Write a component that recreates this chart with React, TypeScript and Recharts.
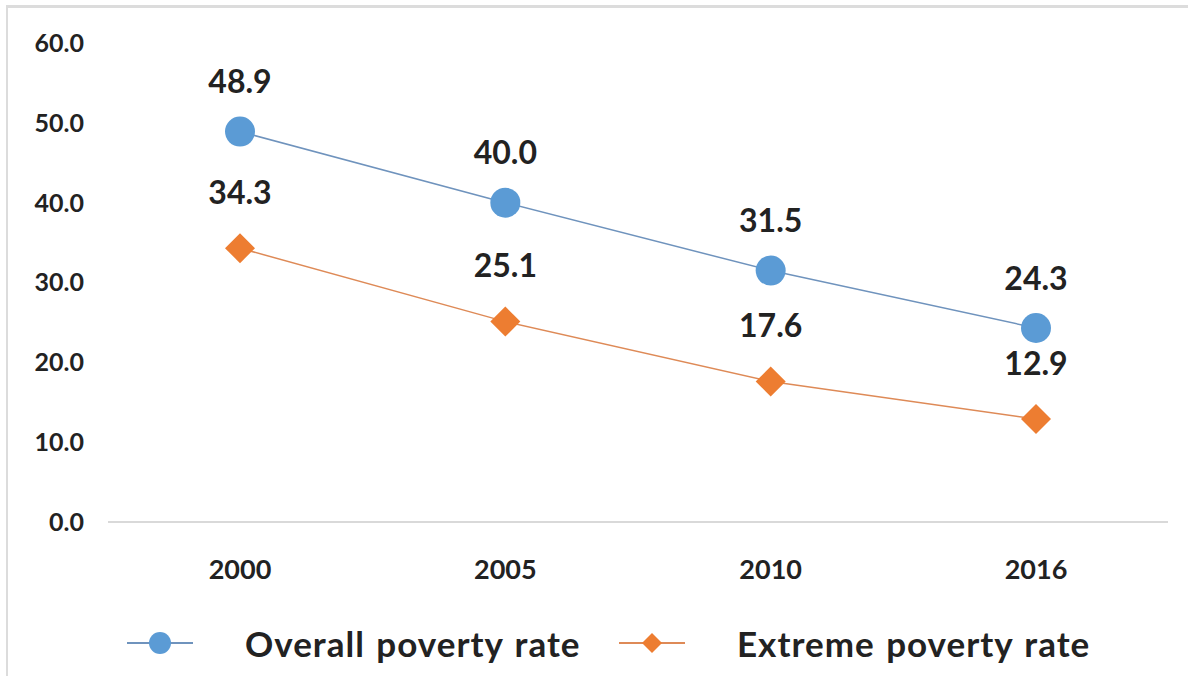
import { LabelList, Line, LineChart, XAxis, YAxis } from "recharts";

const years = ["2000", "2005", "2010", "2016"];
const overallRate = [48.9, 40.0, 31.5, 24.3];
const extremeRate = [34.3, 25.1, 17.6, 12.9];
const yTicks = [0, 10, 20, 30, 40, 50, 60];

const BLUE = "#5b9bd5";
const BLUE_LINE = "#6f93bd";
const ORANGE = "#ed7d31";
const ORANGE_LINE = "#de8a57";
const TEXT = "#222222";
const FONT = "Lato, 'Open Sans', sans-serif";

const chartData = years.map((year, i) => ({
  year,
  overall: overallRate[i],
  extreme: extremeRate[i],
}));

const CircleDot = (props: any) => {
  const { cx, cy } = props;
  if (cx == null || cy == null) return null;
  return <circle cx={cx} cy={cy} r={15} fill={BLUE} />;
};

const DiamondDot = (props: any) => {
  const { cx, cy } = props;
  if (cx == null || cy == null) return null;
  const s = 15;
  return (
    <polygon
      points={`${cx},${cy - s} ${cx + s},${cy} ${cx},${cy + s} ${cx - s},${cy}`}
      fill={ORANGE}
    />
  );
};

const makeLabel = (offset: number) => (props: any) => {
  const { x, y, value } = props;
  return (
    <text
      x={x}
      y={y - offset}
      textAnchor="middle"
      dominantBaseline="central"
      fontFamily={FONT}
      fontWeight={700}
      fontSize={32}
      fill={TEXT}
    >
      {Number(value).toFixed(1)}
    </text>
  );
};

const LegendItem = ({
  label,
  kind,
  left,
}: {
  label: string;
  kind: "circle" | "diamond";
  left: number;
}) => (
  <div style={{ position: "absolute", left, top: 622, display: "flex", alignItems: "center" }}>
    <svg width={70} height={36} style={{ marginRight: 50 }}>
      <line
        x1={2}
        y1={18}
        x2={68}
        y2={18}
        stroke={kind === "circle" ? BLUE_LINE : ORANGE_LINE}
        strokeWidth={2}
      />
      {kind === "circle" ? (
        <circle cx={35} cy={18} r={11} fill={BLUE} />
      ) : (
        <polygon points="35,8 45,18 35,28 25,18" fill={ORANGE} />
      )}
    </svg>
    <span
      style={{
        fontFamily: FONT,
        fontWeight: 700,
        fontSize: 35,
        letterSpacing: 1,
        wordSpacing: 2,
        color: TEXT,
        whiteSpace: "nowrap",
      }}
    >
      {label}
    </span>
  </div>
);

export default function App() {
  return (
    <div
      style={{
        position: "absolute",
        left: 0,
        top: 0,
        width: 1188,
        height: 676,
        background: "#fff",
        overflow: "hidden",
      }}
    >
      {/* light frame on top and left, as in the screenshot */}
      <div
        style={{
          position: "absolute",
          left: 6,
          top: 5,
          right: -10,
          bottom: -10,
          borderTop: "3px solid #dcdcdc",
          borderLeft: "2px solid #dcdcdc",
        }}
      />
      <LineChart
        width={1188}
        height={676}
        data={chartData}
        margin={{ top: 43, right: 20, left: 0, bottom: 94 }}
      >
        <XAxis
          dataKey="year"
          height={60}
          padding={{ left: 132, right: 132 }}
          axisLine={{ stroke: "#d9d9d9", strokeWidth: 2 }}
          tickLine={false}
          tickSize={0}
          tickMargin={38}
          tick={{ fontFamily: FONT, fontWeight: 700, fontSize: 27, fill: TEXT }}
        />
        <YAxis
          width={108}
          domain={[0, 60]}
          ticks={yTicks}
          axisLine={false}
          tickLine={false}
          tickSize={0}
          tickMargin={24}
          tickFormatter={(v: number) => v.toFixed(1)}
          tick={{ fontFamily: FONT, fontWeight: 700, fontSize: 25, fill: TEXT }}
        />
        <Line
          type="linear"
          dataKey="overall"
          stroke={BLUE_LINE}
          strokeWidth={1.5}
          dot={<CircleDot />}
          activeDot={false}
          isAnimationActive={false}
        >
          <LabelList dataKey="overall" content={makeLabel(51)} />
        </Line>
        <Line
          type="linear"
          dataKey="extreme"
          stroke={ORANGE_LINE}
          strokeWidth={1.5}
          dot={<DiamondDot />}
          activeDot={false}
          isAnimationActive={false}
        >
          <LabelList dataKey="extreme" content={makeLabel(57)} />
        </Line>
      </LineChart>
      <LegendItem label="Overall poverty rate" kind="circle" left={125} />
      <LegendItem label="Extreme poverty rate" kind="diamond" left={617} />
    </div>
  );
}
